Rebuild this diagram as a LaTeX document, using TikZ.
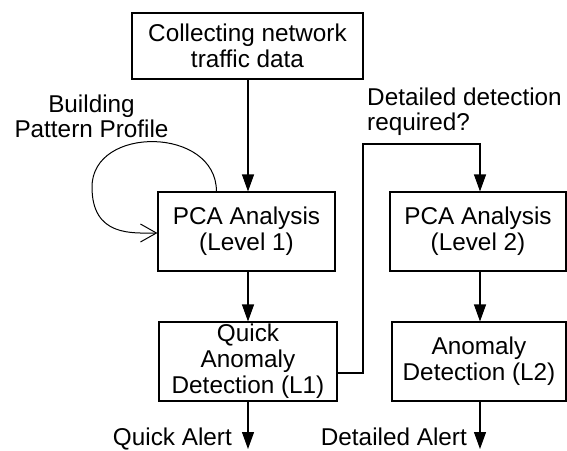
\documentclass[tikz,border=0pt]{standalone}
\usepackage{fontspec}
\setmainfont{Liberation Sans}
\usetikzlibrary{arrows.meta}
\tikzset{
  box/.style={draw, line width=1.1pt, inner sep=0pt, align=center, font=\fontsize{24.3}{26}\selectfont},
  lbl/.style={inner sep=0pt, font=\fontsize{24.3}{25}\selectfont},
  flow/.style={line width=1.1pt, -{Triangle[length=17pt,width=12pt]}},
  barb/.style={line width=1pt, -{Straight Barb[length=16pt,width=18pt]}}
}
\begin{document}
\begin{tikzpicture}[x=1pt,y=-1pt]
\useasboundingbox (0,0) rectangle (567,450);
\node[box, minimum width=231pt, minimum height=66pt] (top) at (247.5,46) {Collecting network\\traffic data};
\node[box, minimum width=177pt, minimum height=79pt] (p1) at (246.5,231.5) {PCA Analysis\\(Level 1)};
\node[box, minimum width=178pt, minimum height=79pt] (q1) at (248,361.5) {Quick\\Anomaly\\Detection (L1)};
\node[box, minimum width=176pt, minimum height=79pt] (p2) at (478,231.5) {PCA Analysis\\(Level 2)};
\node[box, minimum width=174pt, minimum height=79pt] (a2) at (479,361.5) {Anomaly\\Detection (L2)};
\node[lbl, align=center, anchor=base] (bpp) at (91.5,137) {Building\\Pattern Profile};
\node[lbl, align=left, anchor=base west] (ddr) at (367,130) {Detailed detection\\required?};
\node[lbl, anchor=base east] (qal) at (232,445) {Quick Alert};
\node[lbl, anchor=base east] (dal) at (467,445) {Detailed Alert};
\coordinate (qa) at (248,449);
\coordinate (da) at (480,449);
\coordinate (j1) at (363,373);
\coordinate (j2) at (363,144);
\coordinate (j3) at (480,144);
\draw[flow] (top.south -| 248,0) -- (p1.north -| 248,0);
\draw[flow] (p1.south -| 248,0) -- (q1.north -| 248,0);
\draw[flow] (p2.south -| 480,0) -- (a2.north -| 480,0);
\draw[flow] (q1.south -| qa) -- (qa);
\draw[flow] (a2.south -| da) -- (da);
\draw[flow] (q1.east |- j1) -- (j1) -- (j2) -- (j3) -- (p2.north -| j3);
\draw[barb] ([xshift=59pt]p1.north west) .. controls +(0,-65) and +(0,-62) .. (92,187)
  .. controls +(0,50) and +(-25,0) .. ([yshift=-1.5pt]p1.west);
\end{tikzpicture}
\end{document}
